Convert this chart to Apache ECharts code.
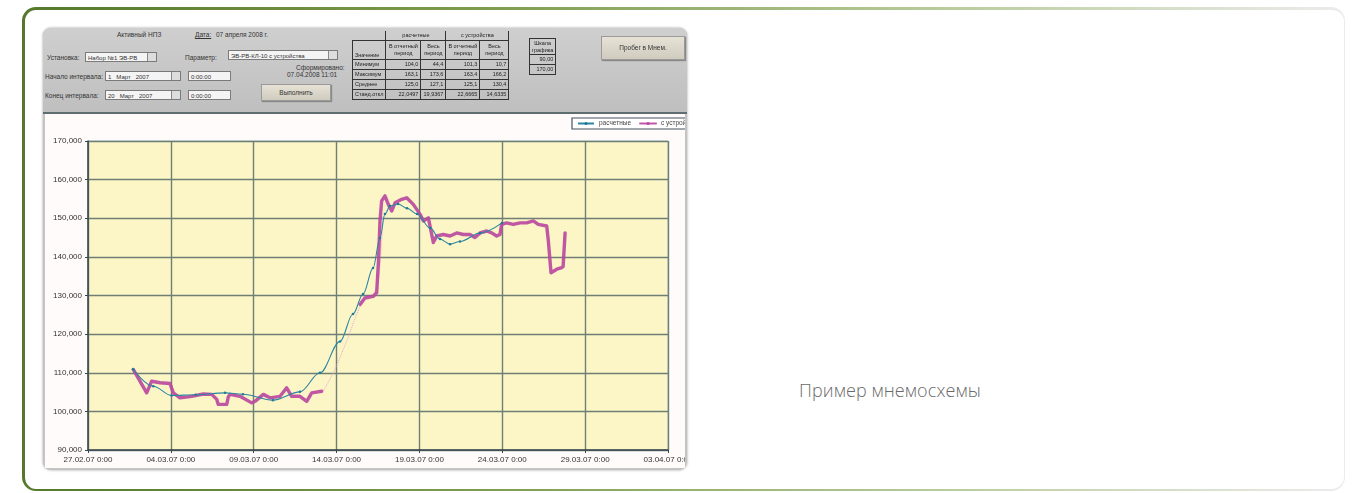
<!DOCTYPE html>
<html lang="ru">
<head>
<meta charset="utf-8">
<script src="https://cdn.jsdelivr.net/npm/echarts@6/dist/echarts.min.js"></script>
<style>
  html,body{margin:0;padding:0;background:#fff;width:1353px;height:493px;overflow:hidden;font-family:"Liberation Sans",Arial,sans-serif;}
  .card{position:absolute;left:22px;top:7px;width:1319px;height:479px;border-style:solid;border-width:3px 1px 2px 3px;border-color:transparent;border-radius:14px;
    background:linear-gradient(#fff,#fff) padding-box, linear-gradient(to right,#55782a 0%,#7d9c4e 35%,#b9cc9c 70%,#ececec 100%) border-box;}
  .caption{position:absolute;left:799px;top:378px;font-family:"Open Sans","Noto Sans",sans-serif;font-weight:300;font-size:18px;color:#6a6a6a;letter-spacing:0.1px;}
  .frame{position:absolute;left:43px;top:28px;width:644px;height:442px;border-radius:8px;overflow:hidden;background:#c3c3c3;box-shadow:0 0 2px 1px rgba(0,0,0,0.18);}
  .panel{position:absolute;left:0;top:0;width:644px;height:84px;background:linear-gradient(#cfcfcf,#bfbfbf);border-bottom:2px solid #5d6d70;filter:blur(0.5px);}
  .panel .t{position:absolute;font-size:6.5px;color:#333;white-space:nowrap;line-height:8px;}
  .panel .box{position:absolute;height:10px;background:#f4f4f4;border:1px solid #7a7a7a;font-size:6px;line-height:10px;color:#333;padding-left:2px;white-space:nowrap;overflow:hidden;box-sizing:border-box;}
  .panel .arr{position:absolute;right:0;top:0;width:8px;height:8px;background:#ddd;border-left:1px solid #888;}
  .panel .btn{position:absolute;background:linear-gradient(#e6e2d6,#cfcbbf);border:1px solid #9a9a9a;box-shadow:1px 1px 1px #888;font-size:6.5px;color:#333;text-align:center;}
  .panel table{position:absolute;border-collapse:collapse;font-size:5.5px;color:#222;}
  .panel td{border:1px solid #333;padding:0 2px;text-align:right;height:9px;line-height:7px;white-space:nowrap;}
  .panel td.l{text-align:left;}
  .panel td.h{text-align:center;border-top:none;}
  .chartbg{position:absolute;left:2px;top:86px;width:640px;height:354px;background:#fffbfb;}
  #chart{position:absolute;left:2px;top:85px;width:640px;height:357px;filter:blur(0.35px);}
</style>
</head>
<body>
<div class="card"></div>
<div class="caption">Пример мнемосхемы</div>
<div class="frame">
  <div class="panel">
    <div class="t" style="left:74px;top:3px;">Активный НПЗ</div>
    <div class="t" style="left:152px;top:3px;text-decoration:underline;">Дата:</div>
    <div class="t" style="left:173px;top:3px;">07 апреля 2008 г.</div>

    <div class="t" style="left:4px;top:26px;">Установка:</div>
    <div class="box" style="left:42px;top:24px;width:72px;">Набор №1 ЭВ-РВ<div class="arr"></div></div>
    <div class="t" style="left:142px;top:26px;">Параметр:</div>
    <div class="box" style="left:185px;top:22px;width:110px;">ЭВ-РВ-КЛ-10 с устройства<div class="arr"></div></div>

    <div class="t" style="left:2px;top:45px;">Начало интервала:</div>
    <div class="box" style="left:62px;top:43px;width:76px;">1 &nbsp; Март &nbsp; 2007<div class="arr"></div></div>
    <div class="box" style="left:145px;top:43px;width:43px;">0:00:00</div>
    <div class="t" style="left:253px;top:36px;">Сформировано:</div>
    <div class="t" style="left:244px;top:43px;">07.04.2008 11:01</div>

    <div class="t" style="left:2px;top:64px;">Конец интервала:</div>
    <div class="box" style="left:62px;top:62px;width:76px;">20 &nbsp; Март &nbsp; 2007<div class="arr"></div></div>
    <div class="box" style="left:145px;top:62px;width:43px;">0:00:00</div>
    <div class="btn" style="left:218px;top:56px;width:68px;height:15px;line-height:15px;">Выполнить</div>

    <table style="left:309px;top:3px;">
      <tr><td class="l" style="border:none;"></td><td colspan="2" class="h" style="border-top:none;">расчетные</td><td colspan="2" class="h" style="border-top:none;">с устройства</td></tr>
      <tr><td class="l" style="height:18px;vertical-align:bottom;">Значение</td><td class="h" style="width:30px;">В отчетный<br>период</td><td class="h" style="width:20px;">Весь<br>период</td><td class="h" style="width:26px;">В отчетный<br>период</td><td class="h" style="width:24px;">Весь<br>период</td></tr>
      <tr><td class="l">Минимум</td><td>104,0</td><td>44,4</td><td>101,3</td><td>10,7</td></tr>
      <tr><td class="l">Максимум</td><td>163,1</td><td>173,6</td><td>163,4</td><td>166,2</td></tr>
      <tr><td class="l">Среднее</td><td>125,0</td><td>127,1</td><td>125,1</td><td>130,4</td></tr>
      <tr><td class="l">Станд.откл</td><td>22,0497</td><td>19,9367</td><td>22,6665</td><td>14,6335</td></tr>
    </table>
    <table style="left:486px;top:10px;">
      <tr><td class="h" style="border-top:1px solid #333;height:15px;">Шкала<br>графика</td></tr>
      <tr><td>90,00</td></tr>
      <tr><td>170,00</td></tr>
    </table>
    <div class="btn" style="left:558px;top:8px;width:82px;height:22px;line-height:22px;">Пробег в Мнем.</div>
  </div>
  <div class="chartbg"></div>
  <div id="chart"></div>
</div>
<script>
// x values are days since 27.02.07 0:00
const xTickStart = Date.UTC(2007, 1, 27);
const seriesNames = ['расчетные', 'с устройства'];

// calculated series (teal)
const calcDay = [2.72, 3.94, 5.05, 6.5, 8.27, 9.35, 11.16, 12.79, 14.0, 15.21, 15.99, 16.6, 17.2, 17.62, 17.92, 18.23, 18.71, 19.25, 19.86, 20.64, 21.24, 21.85, 22.45, 23.66, 24.98];
const calcVal = [110900, 106500, 104100, 104300, 104800, 104450, 102900, 105050, 110000, 118100, 125200, 130400, 137100, 144900, 151100, 153200, 153700, 152600, 151100, 147500, 144600, 143300, 144000, 146200, 148800];

// device series (magenta); null = gap
const deviceDay = [2.73, 3.54, 3.84, 4.35, 4.95, 5.15, 5.55, 6.26, 6.96, 7.47, 7.77, 7.86, 8.37, 8.47, 8.57, 9.17, 9.88, 10.08, 10.58, 10.98, 11.59, 11.99, 12.29, 12.79, 13.20, 13.50, 14.10,
  null,
  16.42, 16.72, 17.22, 17.42, 17.53, 17.62, 17.72, 17.92, 18.12, 18.33, 18.53, 18.93, 19.23, 19.63, 20.04, 20.24, 20.54, 20.84, 21.04, 21.44, 21.85, 22.25, 22.65, 23.05, 23.35, 23.66, 24.06, 24.36, 24.66, 24.86, 24.96, 25.26, 25.66, 26.07, 26.47, 26.87, 27.17, 27.68, 27.78, 27.94, 28.29, 28.59,
  null,
  28.67, 28.79];
const deviceVal = [110850, 104800, 107800, 107400, 107200, 104800, 103500, 103900, 104500, 104400, 103100, 101800, 101800, 103800, 104400, 103900, 102200, 102600, 104400, 103500, 103900, 106100, 103900, 103900, 102600, 104800, 105200,
  null,
  127700, 129400, 129800, 130700, 138900, 149300, 154500, 155800, 153600, 151900, 154000, 154900, 155300, 153600, 151000, 149300, 150100, 143700, 145400, 145800, 145400, 146200, 145800, 145800, 145000, 146200, 146700, 146200, 145400, 145800, 148400, 148800, 148400, 148800, 148800, 149300, 148400, 148000, 144100, 135900, 136800, 137200,
  null,
  137500, 146200];

// faint raw device trace across the gap
const rawDay = [14.12, 14.79, 15.61, 16.22, 16.6, 17.14, 17.5, 17.68, 17.8];
const rawVal = [104700, 109900, 118200, 125200, 128500, 129600, 133700, 141500, 150600];

function pairs(xs, ys) {
  return xs.map((x, i) => (x === null || ys[i] === null) ? ['-', '-'] : [x, ys[i]]);
}
function pad(n) { return (n < 10 ? '0' : '') + n; }
function dayLabel(d) {
  const dt = new Date(xTickStart + d * 86400000);
  return pad(dt.getUTCDate()) + '.' + pad(dt.getUTCMonth() + 1) + '.' + String(dt.getUTCFullYear()).slice(2) + ' 0:00';
}

const chart = echarts.init(document.getElementById('chart'), null, {renderer: 'canvas'});
chart.setOption({
  animation: false,
  backgroundColor: 'transparent',
  textStyle: {fontFamily: 'Liberation Sans, Arial, sans-serif'},
  legend: {
    orient: 'horizontal',
    left: 527, top: 5, width: 400,
    padding: [2, 6, 2, 5],
    itemGap: 8,
    itemWidth: 16, itemHeight: 4,
    borderColor: '#46525c', borderWidth: 1.2,
    backgroundColor: '#ffffff',
    textStyle: {fontSize: 6.5, color: '#444'},
    data: seriesNames
  },
  grid: {left: 43, right: 17, top: 28, bottom: 20, outerBoundsMode: 'none', containLabel: false,
    show: true, backgroundColor: '#fcf5c6', borderColor: '#a8c3c3', borderWidth: 1},
  xAxis: {
    type: 'value', min: 0, max: 35, interval: 5,
    axisLine: {show: true, onZero: false, lineStyle: {color: '#3a464c', width: 1.5}},
    axisTick: {show: true, length: 3, lineStyle: {color: '#3a464c'}},
    axisLabel: {fontSize: 8, color: '#333', margin: 6, formatter: v => dayLabel(v)},
    splitLine: {show: true, lineStyle: {color: '#6e7f76', width: 1.4}}
  },
  yAxis: {
    type: 'value', min: 90000, max: 170000, interval: 10000,
    axisLine: {show: true, lineStyle: {color: '#3a464c', width: 1.5}},
    axisTick: {show: true, length: 3, lineStyle: {color: '#3a464c'}},
    axisLabel: {fontSize: 8, color: '#333', margin: 6, formatter: v => v.toLocaleString('en-US')},
    splitLine: {show: true, lineStyle: {color: '#6e7f76', width: 1.4}}
  },
  series: [
    {
      name: 'raw', type: 'line', data: pairs(rawDay, rawVal), showSymbol: false, smooth: 0.3,
      lineStyle: {color: '#e6a6cf', width: 1, type: 'dotted'}, z: 1, silent: true
    },
    {
      name: seriesNames[1], type: 'line', data: pairs(deviceDay, deviceVal), connectNulls: false,
      symbol: 'circle', symbolSize: 2, showSymbol: false,
      itemStyle: {color: '#b9469f'},
      lineStyle: {color: '#b9469f', width: 3.4, opacity: 0.9, cap: 'round', join: 'round'}, z: 3
    },
    {
      name: seriesNames[0], type: 'line', data: pairs(calcDay, calcVal), smooth: 0.35, smoothMonotone: 'x',
      symbol: 'circle', symbolSize: 2.5, showSymbol: true,
      itemStyle: {color: '#1f7a96'},
      lineStyle: {color: '#2a86a2', width: 1.1}, z: 4
    }
  ]
});
</script>
</body>
</html>
